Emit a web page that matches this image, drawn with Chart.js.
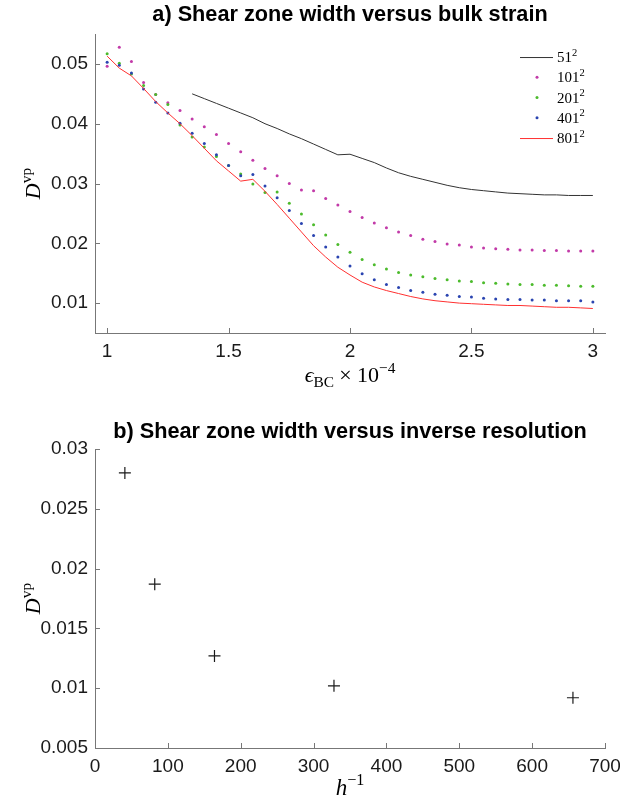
<!doctype html>
<html lang="en">

<head>
    <meta charset="utf-8">
    <title>Shear zone width</title>
    <style>
        body { margin: 0; background: #fff; }
        canvas { display: block; }
    </style>
</head>

<body>
    <canvas id="strain-chart" width="620" height="400"></canvas>
    <canvas id="res-chart" width="620" height="399"></canvas>

    <script src="https://cdn.jsdelivr.net/npm/chart.js"></script>
    <script>
        // ---- data ----
        const strain = [1.00, 1.05, 1.10, 1.15, 1.20, 1.25, 1.30, 1.35, 1.40, 1.45,
            1.50, 1.55, 1.60, 1.65, 1.70, 1.75, 1.80, 1.85, 1.90, 1.95,
            2.00, 2.05, 2.10, 2.15, 2.20, 2.25, 2.30, 2.35, 2.40, 2.45,
            2.50, 2.55, 2.60, 2.65, 2.70, 2.75, 2.80, 2.85, 2.90, 2.95, 3.00];

        const d51 = [null, null, null, null, null, null, null, 0.0450, 0.0442, 0.0434,
            0.0426, 0.0418, 0.0410, 0.0400, 0.0392, 0.0383, 0.0375, 0.0366, 0.0357, 0.0348,
            0.0349, 0.0342, 0.0335, 0.0326, 0.0318, 0.0312, 0.0307, 0.0302, 0.0297, 0.0293,
            0.0290, 0.0288, 0.0286, 0.0284, 0.0283, 0.0282, 0.0281, 0.0281, 0.0280, 0.0280, 0.0280];

        const d101 = [0.0496, 0.0528, 0.0504, 0.0469, 0.0449, 0.0435, 0.0422, 0.0408, 0.0395, 0.0382,
            0.0367, 0.0353, 0.0339, 0.0325, 0.0313, 0.0300, 0.0289, 0.0288, 0.0275, 0.0264,
            0.0253, 0.0243, 0.0234, 0.0226, 0.0219, 0.0213, 0.0207, 0.0203, 0.0199, 0.0197,
            0.0194, 0.0192, 0.0191, 0.0190, 0.0189, 0.0189, 0.0188, 0.0188, 0.0187, 0.0187, 0.0187];

        const d201 = [0.0517, 0.0501, 0.0483, 0.0464, 0.0449, 0.0432, 0.0398, 0.0378, 0.0361, 0.0345,
            0.0330, 0.0316, 0.0299, 0.0285, 0.0286, 0.0267, 0.0249, 0.0231, 0.0214, 0.0198,
            0.0185, 0.0173, 0.0164, 0.0157, 0.0151, 0.0147, 0.0144, 0.0141, 0.0139, 0.0137,
            0.0136, 0.0134, 0.0133, 0.0132, 0.0131, 0.0131, 0.0130, 0.0130, 0.0129, 0.0128, 0.0128];

        const d401 = [0.0503, 0.0498, 0.0485, 0.0458, 0.0436, 0.0418, 0.0401, 0.0384, 0.0367, 0.0348,
            0.0330, 0.0313, 0.0315, 0.0296, 0.0276, 0.0255, 0.0233, 0.0213, 0.0194, 0.0177,
            0.0162, 0.0149, 0.0139, 0.0131, 0.0126, 0.0121, 0.0118, 0.0115, 0.0113, 0.0111,
            0.0110, 0.0108, 0.0107, 0.0106, 0.0106, 0.0105, 0.0105, 0.0104, 0.0104, 0.0104, 0.0102];

        const d801 = [0.0513, 0.0493, 0.0480, 0.0459, 0.0437, 0.0418, 0.0400, 0.0380, 0.0359, 0.0338,
            0.0321, 0.0304, 0.0307, 0.0287, 0.0265, 0.0242, 0.0219, 0.0196, 0.0177, 0.0160,
            0.0147, 0.0135, 0.0127, 0.0121, 0.0116, 0.0111, 0.0107, 0.0104, 0.0102, 0.0100,
            0.0099, 0.0098, 0.0097, 0.0096, 0.0096, 0.0095, 0.0094, 0.0093, 0.0093, 0.0092, 0.0091];

        const resolutions = ['51', '101', '201', '401', '801'];

        const hInv = [41, 82, 164, 328, 656];
        const widthAtEnd = [0.0280, 0.0187, 0.0127, 0.0102, 0.0092];

        const xTicksTop = [1, 1.5, 2, 2.5, 3];
        const yTicksTop = [0.01, 0.02, 0.03, 0.04, 0.05];
        const xTicksBottom = [0, 100, 200, 300, 400, 500, 600, 700];
        const yTicksBottom = [0.005, 0.01, 0.015, 0.02, 0.025, 0.03];

        // ---- styling ----
        const sans = '"Liberation Sans", Arial, sans-serif';
        const serif = '"Liberation Serif", "DejaVu Serif", serif';
        const axisColor = '#777';
        const tickFont = { family: sans, size: 19 };
        const titleFont = { family: sans, size: 21.7, weight: 'bold' };

        const fmt = v => String(parseFloat(v.toFixed(4)));

        // text with sub/superscripts: parts = [[text, kind]], kind: 'i', 'r', 'op', 'sup', 'sub'
        function drawRich(ctx, parts, x, y, size, angle, align) {
            ctx.save();
            ctx.translate(x, y);
            ctx.rotate(angle || 0);
            const segs = parts.map(([t, k]) => {
                const s = (k === 'sup' || k === 'sub') ? size * 0.7 : size;
                const font = (k === 'i' ? 'italic ' : '') + s + 'px ' + serif;
                ctx.font = font;
                const dy = k === 'sup' ? -size * 0.42 : (k === 'sub' ? size * 0.22 : 0);
                const pad = k === 'op' ? size * 0.24 : 0;
                return { t, font, dy, pad, w: ctx.measureText(t).width + 2 * pad };
            });
            const total = segs.reduce((a, s) => a + s.w, 0);
            let cx = align === 'left' ? 0 : -total / 2;
            ctx.fillStyle = '#000';
            ctx.textBaseline = 'alphabetic';
            segs.forEach(s => {
                ctx.font = s.font;
                ctx.fillText(s.t, cx + s.pad, s.dy);
                cx += s.w;
            });
            ctx.restore();
        }

        // MATLAB style ticks pointing into the axes
        const insideTicks = {
            id: 'insideTicks',
            afterDraw(chart) {
                const { ctx, chartArea: a, scales } = chart;
                ctx.save();
                ctx.strokeStyle = axisColor;
                ctx.lineWidth = 1;
                ctx.beginPath();
                scales.x.ticks.forEach(t => {
                    const px = Math.round(scales.x.getPixelForValue(t.value)) + 0.5;
                    ctx.moveTo(px, a.bottom);
                    ctx.lineTo(px, a.bottom - 5);
                });
                scales.y.ticks.forEach(t => {
                    const py = Math.round(scales.y.getPixelForValue(t.value)) + 0.5;
                    ctx.moveTo(a.left, py);
                    ctx.lineTo(a.left + 5, py);
                });
                ctx.stroke();
                ctx.restore();
            }
        };

        function axisLabels(xParts, xOffset, xSize) {
            return {
                id: 'axisLabels',
                afterDraw(chart) {
                    const { ctx, chartArea: a } = chart;
                    drawRich(ctx, xParts, (a.left + a.right) / 2, a.bottom + xOffset, xSize);
                    drawRich(ctx, [['D', 'i'], ['vp', 'sup']], 40, (a.top + a.bottom) / 2, 22, -Math.PI / 2);
                }
            };
        }

        const strainLegend = {
            id: 'strainLegend',
            afterDraw(chart) {
                const { ctx, chartArea: a } = chart;
                chart.data.datasets.forEach((ds, i) => {
                    const y = a.top + 23 + i * 20.25;
                    ctx.save();
                    if (ds.showLine) {
                        ctx.strokeStyle = ds.borderColor;
                        ctx.lineWidth = 1;
                        ctx.beginPath();
                        ctx.moveTo(a.right - 85, y + 0.5);
                        ctx.lineTo(a.right - 52, y + 0.5);
                        ctx.stroke();
                    } else {
                        ctx.fillStyle = ds.backgroundColor;
                        ctx.beginPath();
                        ctx.arc(a.right - 68, y, 1.5, 0, Math.PI * 2);
                        ctx.fill();
                    }
                    ctx.restore();
                    drawRich(ctx, [[resolutions[i], 'r'], ['2', 'sup']], a.right - 48, y + 5, 15, 0, 'left');
                });
            }
        };

        function points(values) {
            return strain.map((x, i) => ({ x, y: values[i] })).filter(p => p.y !== null);
        }

        function lineSet(i, values, color) {
            return {
                label: resolutions[i] + '²', data: points(values), showLine: true,
                borderColor: color, backgroundColor: color, borderWidth: 1,
                pointRadius: 0, tension: 0, order: 4 - i
            };
        }

        function dotSet(i, values, color) {
            return {
                label: resolutions[i] + '²', data: points(values), showLine: false,
                borderColor: color, backgroundColor: color,
                pointRadius: 1.5, pointBorderWidth: 0, order: 4 - i
            };
        }

        function scaleCfg(min, max, ticks, fitSize, isX) {
            return {
                type: 'linear', min, max,
                grid: { display: false, drawTicks: false },
                border: { display: true, color: axisColor, width: 1 },
                afterBuildTicks: s => { s.ticks = ticks.map(v => ({ value: v })); },
                afterFit: s => {
                    if (isX) { s.height = fitSize; s.paddingLeft = 0; s.paddingRight = 0; }
                    else { s.width = fitSize; s.paddingTop = 0; s.paddingBottom = 0; }
                },
                ticks: {
                    font: tickFont, color: '#1a1a1a', padding: 7,
                    autoSkip: false, maxRotation: 0, minRotation: 0,
                    callback: v => fmt(v)
                }
            };
        }

        new Chart(document.getElementById('strain-chart'), {
            type: 'scatter',
            data: {
                datasets: [
                    lineSet(0, d51, '#333333'),
                    dotSet(1, d101, '#c23aa8'),
                    dotSet(2, d201, '#4cbb2c'),
                    dotSet(3, d401, '#2a44b0'),
                    lineSet(4, d801, '#ff3030')
                ]
            },
            options: {
                responsive: false,
                animation: false,
                devicePixelRatio: 1,
                layout: { padding: { left: 0, right: 15, top: 0, bottom: 0 } },
                plugins: {
                    legend: { display: false },
                    tooltip: { enabled: false },
                    title: {
                        display: true, fullSize: false, text: 'a) Shear zone width versus bulk strain',
                        font: titleFont, color: '#000', padding: { top: 2, bottom: 6 }
                    }
                },
                scales: {
                    x: scaleCfg(0.95, 3.05, xTicksTop, 67, true),
                    y: scaleCfg(0.005, 0.055, yTicksTop, 95, false)
                }
            },
            plugins: [insideTicks, strainLegend,
                axisLabels([['ϵ', 'i'], ['BC', 'sub'], ['×', 'op'], ['10', 'r'], ['−4', 'sup']], 49, 22)]
        });

        new Chart(document.getElementById('res-chart'), {
            type: 'scatter',
            data: {
                datasets: [{
                    label: 'D vp',
                    data: hInv.map((x, i) => ({ x, y: widthAtEnd[i] })),
                    pointStyle: 'cross', pointRadius: 6, pointBorderWidth: 1.2,
                    borderColor: '#1a1a1a', backgroundColor: '#1a1a1a'
                }]
            },
            options: {
                responsive: false,
                animation: false,
                devicePixelRatio: 1,
                layout: { padding: { left: 0, right: 15, top: 0, bottom: 0 } },
                plugins: {
                    legend: { display: false },
                    tooltip: { enabled: false },
                    title: {
                        display: true, fullSize: false, text: 'b) Shear zone width versus inverse resolution',
                        font: titleFont, color: '#000', padding: { top: 19, bottom: 4 }
                    }
                },
                scales: {
                    x: scaleCfg(0, 700, xTicksBottom, 51, true),
                    y: scaleCfg(0.005, 0.03, yTicksBottom, 95, false)
                }
            },
            plugins: [insideTicks, axisLabels([['h', 'i'], ['−1', 'sup']], 47, 23)]
        });
    </script>
</body>

</html>
